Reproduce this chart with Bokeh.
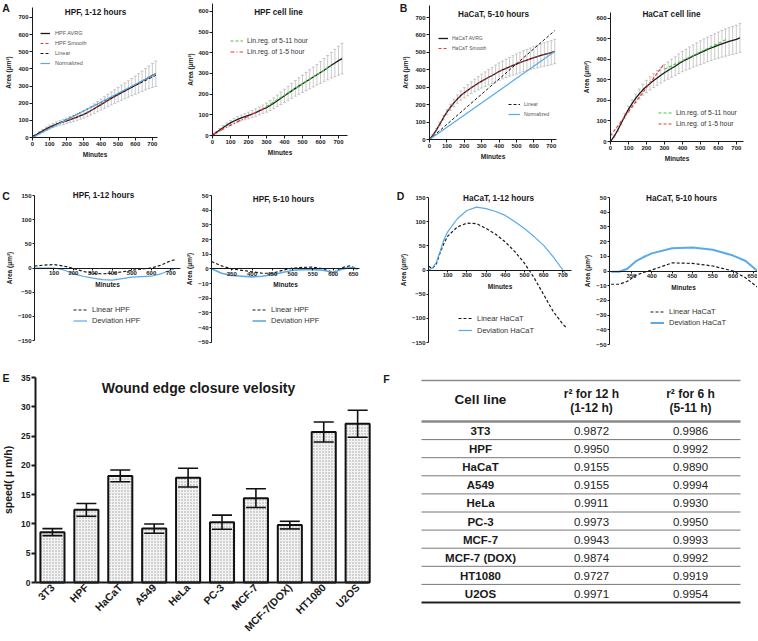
import math
from bokeh.plotting import figure
from bokeh.layouts import column, row
from bokeh.models import (Range1d, FixedTicker, Label, Legend, LegendItem, Whisker,
                          TeeHead, ColumnDataSource)
from bokeh.core.properties import value
from bokeh.embed import file_html
from bokeh.resources import INLINE

FONT = "Liberation Sans"

# ---------------- data ----------------
minutes = [0, 20, 40, 60, 80, 100, 120, 140, 160, 180, 200, 220, 240, 260, 280, 300, 320, 340,
           360, 380, 400, 420, 440, 460, 480, 500, 520, 540, 560, 580, 600, 620, 640, 660, 680,
           700, 720]
hpf_avrg = [0, 14, 27, 39, 51, 61, 70, 78, 85, 91, 97, 104, 111, 119, 127, 135, 145, 156, 168,
            180, 192, 204, 216, 228, 239, 250, 261, 272, 283, 294, 305, 316, 328, 340, 351, 362, 372]
hpf_sd = [2, 5, 7, 9, 10, 11, 12, 13, 14, 15, 16, 17, 18, 19, 20, 22, 24, 26, 28, 30, 32, 34, 36,
          38, 40, 42, 44, 46, 48, 50, 53, 56, 59, 62, 66, 70, 74]
hacat_avrg = [0, 25, 55, 90, 125, 157, 185, 210, 232, 252, 268, 283, 297, 310, 323, 335, 346, 357,
              367, 379, 390, 399, 408, 417, 425, 433, 441, 449, 456, 463, 470, 476, 482, 488, 493,
              498, 505]
hacat_sd = [2, 4, 7, 9, 12, 15, 18, 21, 24, 27, 30, 32, 34, 36, 38, 40, 42, 44, 46, 48, 50, 51, 53,
            54, 56, 58, 59, 60, 61, 62, 64, 65, 66, 67, 68, 69, 70]

hpf_linear_x = [0, 720]
hpf_linear_y = [8, 362]
hpf_norm_x = [0, 720]
hpf_norm_y = [0, 372]
hpf_reg15_x = [0, 300]
hpf_reg15_y = [5, 138]
hpf_reg511_x = [300, 660]
hpf_reg511_y = [140, 338]

hacat_linear_x = [0, 720]
hacat_linear_y = [0, 625]
hacat_norm_x = [0, 720]
hacat_norm_y = [0, 505]
hacat_reg15_x = [0, 300]
hacat_reg15_y = [28, 380]
hacat_reg511_x = [300, 650]
hacat_reg511_y = [352, 500]

hpf12_t = [0, 50, 100, 150, 200, 250, 300, 350, 400, 450, 500, 550, 600, 650, 700, 720]
hpf12_linear = [4, 6, 7, 4, -1, -7, -11, -12, -11, -8, -5, -2, 0, 6, 15, 17]
hpf12_dev = [0, 0, 0, -4, -12, -17, -21, -24, -25, -22, -19, -18, -17, -12, -4, -2]

hpf510_t = [300, 325, 350, 375, 400, 425, 450, 475, 500, 525, 550, 575, 600, 625, 640, 660]
hpf510_linear = [5, 2, 0, -1, -2, -3, -3, -1, 0.5, 1, 1.2, 0, -2.5, 1, 2, 0]
hpf510_dev = [0, -3, -4.5, -5, -5.5, -5, -4, -2.5, -1, -0.5, -0.5, -1, -2.5, 0, 1, 0]

hacat12_t = [0, 20, 40, 60, 80, 100, 150, 200, 250, 300, 350, 400, 450, 500, 550, 600, 650, 700, 720]
hacat12_linear = [8, 3, 12, 35, 55, 70, 89, 97, 96, 86, 74, 58, 38, 14, -16, -51, -86, -112, -120]
hacat12_dev = [0, 4, 15, 38, 62, 79, 106, 123, 130, 127, 121, 113, 100, 86, 69, 51, 27, 0, -10]

hacat510_t = [300, 320, 340, 360, 380, 400, 450, 500, 550, 600, 630, 660]
hacat510_linear = [-9, -9, -7, -3, -1, 0.7, 5.5, 5.2, 3.4, 0, -4.5, -11]
hacat510_dev = [-0.5, -0.5, 1.5, 6.5, 9.5, 12, 15.5, 16, 14.5, 10.5, 7, 0]

growth_xticks = [0, 100, 200, 300, 400, 500, 600, 700]
yticks_700 = [0, 100, 200, 300, 400, 500, 600, 700]
yticks_600 = [0, 100, 200, 300, 400, 500, 600]
dev_xticks_12 = [100, 200, 300, 400, 500, 600, 700]
dev_xticks_510 = [350, 400, 450, 500, 550, 600, 650]
dev_yticks_150 = [-150, -100, -50, 0, 50, 100, 150]
dev_yticks_50 = [-50, -40, -30, -20, -10, 0, 10, 20, 30, 40, 50]

cell_lines = ["3T3", "HPF", "HaCaT", "A549", "HeLa", "PC-3", "MCF-7", "MCF-7(DOX)", "HT1080", "U2OS"]
speed = [8.6, 12.4, 18.2, 9.2, 17.9, 10.3, 14.4, 9.8, 25.7, 27.1]
speed_err = [0.6, 1.1, 1.0, 0.8, 1.6, 1.2, 1.6, 0.65, 1.7, 2.3]
speed_ticks = [0, 5, 10, 15, 20, 25, 30, 35]

table_lines = ["3T3", "HPF", "HaCaT", "A549", "HeLa", "PC-3", "MCF-7", "MCF-7 (DOX)", "HT1080", "U2OS"]
r2_12h = ["0.9872", "0.9950", "0.9155", "0.9155", "0.9911", "0.9973", "0.9943", "0.9874", "0.9727", "0.9971"]
r2_6h = ["0.9986", "0.9992", "0.9890", "0.9994", "0.9930", "0.9950", "0.9993", "0.9992", "0.9919", "0.9954"]

BLUE = "#5aaae8"
RED = "#e23a3a"
GREEN = "#3ccc3c"
INK = "#1a1a1a"
GRAY = "#a6a6a6"


# ---------------- helpers ----------------
def style(p, tick_size="6px", label_size="6.5px", lw=1.0, tick_out=3, xstand=2, ystand=3):
    for ax in p.axis:
        ax.axis_line_color = INK
        ax.axis_line_width = lw
        ax.major_tick_line_color = INK
        ax.major_tick_line_width = lw
        ax.major_tick_out = tick_out
        ax.major_tick_in = 0
        ax.minor_tick_line_color = None
        ax.major_label_text_font = FONT
        ax.major_label_text_font_style = "bold"
        ax.major_label_text_font_size = tick_size
        ax.major_label_text_color = INK
        ax.major_label_standoff = 1
        ax.axis_label_text_font = FONT
        ax.axis_label_text_font_style = "bold"
        ax.axis_label_text_font_size = label_size
        ax.axis_label_text_color = INK
    p.xaxis.axis_label_standoff = xstand
    p.yaxis.axis_label_standoff = ystand


def full_fig(w, h, L, R, T, B, x0, x1, y0, y1, xaxis_at=None):
    """Figure whose frame fills the whole canvas; axes are pinned at the data edges."""
    fw = w - L - R
    fh = h - T - B
    sx = (x1 - x0) / fw
    sy = (y1 - y0) / fh
    X0, X1 = x0 - L * sx, x1 + R * sx
    Y0, Y1 = y0 - B * sy, y1 + T * sy
    p = figure(width=w, height=h, x_range=Range1d(X0, X1), y_range=Range1d(Y0, Y1),
               output_backend="svg", toolbar_location=None, min_border=0)
    p.outline_line_color = None
    p.grid.visible = False
    p.background_fill_color = "white"
    p.border_fill_color = "white"
    p.xaxis.fixed_location = y0 if xaxis_at is None else xaxis_at
    p.xaxis.bounds = (x0, x1)
    p.yaxis.fixed_location = x0
    p.yaxis.bounds = (y0, y1)
    return p, (w, h, X0, X1, Y0, Y1)


def add_text(p, g, px, py, text, size, fstyle="bold", align="center", color=INK):
    w, h, X0, X1, Y0, Y1 = g
    x = X0 + px / w * (X1 - X0)
    y = Y1 - py / h * (Y1 - Y0)
    p.add_layout(Label(x=x, y=y, text=text, text_font=FONT, text_font_size=size,
                       text_font_style=fstyle, text_align=align, text_baseline="middle",
                       text_color=color))


def add_legend(p, items, vx, vy, size, color=INK, gw=12, lh=10, standoff=4):
    lg = Legend(items=[LegendItem(label=lab, renderers=[r]) for lab, r in items],
                location=(vx, vy), label_text_font=FONT, label_text_font_size=size,
                label_text_color=color, glyph_width=gw, glyph_height=lh,
                label_height=lh, spacing=0, padding=0, margin=0, border_line_color=None,
                background_fill_alpha=0, label_standoff=standoff)
    p.add_layout(lg)


def growth(w, h, L, R, T, B, xmax, ymax, yticks, mean, sd, title, tpos, ystand=3):
    p, g = full_fig(w, h, L, R, T, B, 0, xmax, 0, ymax)
    p.xaxis.ticker = FixedTicker(ticks=growth_xticks)
    p.yaxis.ticker = FixedTicker(ticks=yticks)
    p.xaxis.axis_label = "Minutes"
    p.yaxis.axis_label = "Area (μm²)"
    style(p, ystand=ystand)
    src = ColumnDataSource(dict(t=minutes,
                                up=[m + s for m, s in zip(mean, sd)],
                                lo=[m - s for m, s in zip(mean, sd)]))
    p.add_layout(Whisker(source=src, base="t", upper="up", lower="lo", line_color=GRAY,
                         line_width=0.6,
                         upper_head=TeeHead(size=3, line_color=GRAY, line_width=0.6),
                         lower_head=TeeHead(size=3, line_color=GRAY, line_width=0.6)))
    avg = p.line(minutes, mean, line_color=INK, line_width=1.3)
    add_text(p, g, tpos[0], tpos[1], title, "8.2px")
    return p, g, avg


def deviation(w, h, L, R, T, B, x0, x1, y0, y1, xticks, yticks, t, lin, dev,
              lin_label, dev_label, title, tpos, leg, dev_w=1.2, lh=11):
    p, g = full_fig(w, h, L, R, T, B, x0, x1, y0, y1, xaxis_at=0)
    p.xaxis.ticker = FixedTicker(ticks=xticks)
    p.yaxis.ticker = FixedTicker(ticks=yticks)
    p.xaxis.axis_label = "Minutes"
    p.yaxis.axis_label = "Area (μm²)"
    style(p, tick_out=2, ystand=2)
    r_lin = p.line(t, lin, line_color=INK, line_dash="3 2", line_width=1.2)
    r_dev = p.line(t, dev, line_color=BLUE, line_width=dev_w)
    add_text(p, g, tpos[0], tpos[1], title, "8.2px")
    add_legend(p, [(lin_label, r_lin), (dev_label, r_dev)], leg[0], leg[1], "7.5px",
               color="#333", gw=14, lh=lh, standoff=5)
    return p, g


# ---------------- row 1 : A and B ----------------
pa1, ga1, a1_avg = growth(186, 190, 32, 29, 6.7, 53, 730, 760, yticks_700, hpf_avrg, hpf_sd,
                          "HPF, 1-12 hours", (95, 12))
a1_smooth = pa1.line(minutes, hpf_avrg, line_color=RED, line_dash="3 2", line_width=1.0)
a1_lin = pa1.line(hpf_linear_x, hpf_linear_y, line_color=INK, line_dash="3 2", line_width=1.0)
a1_norm = pa1.line(hpf_norm_x, hpf_norm_y, line_color=BLUE, line_width=1.2)
add_legend(pa1, [("HPF AVRG", a1_avg), ("HPF Smooth", a1_smooth), ("Linear", a1_lin),
                 ("Normalized", a1_norm)], 40, 122, "5.5px", color="#555", gw=10, lh=10,
           standoff=5)
add_text(pa1, ga1, 5.5, 7.5, "A", "10.5px")

pa2, ga2, a2_avg = growth(192, 190, 26, 31, 2.7, 55, 750, 640, yticks_600, hpf_avrg, hpf_sd,
                          "HPF cell line", (92, 12), ystand=1)
a2_r511 = pa2.line(hpf_reg511_x, hpf_reg511_y, line_color=GREEN, line_dash="3 2", line_width=1.2)
a2_r15 = pa2.line(hpf_reg15_x, hpf_reg15_y, line_color=RED, line_dash="4 2 1 2", line_width=1.2)
add_legend(pa2, [("Lin.reg. of 5-11 hour", a2_r511), ("Lin.reg. of 1-5 hour", a2_r15)],
           44, 133, "6.8px", color="#333", gw=13, lh=11, standoff=4)

pb1, gb1, b1_avg = growth(200, 190, 51, 22, 4.8, 51, 730, 770, yticks_700, hacat_avrg, hacat_sd,
                          "HaCaT, 5-10 hours", (115, 14))
b1_smooth = pb1.line(minutes, hacat_avrg, line_color=RED, line_dash="3 2", line_width=1.0)
b1_lin = pb1.line(hacat_linear_x, hacat_linear_y, line_color=INK, line_dash="3 2", line_width=1.0)
b1_norm = pb1.line(hacat_norm_x, hacat_norm_y, line_color=BLUE, line_width=1.2)
add_legend(pb1, [("HaCaT AVRG", b1_avg), ("HaCaT Smooth", b1_smooth)], 60, 137, "5px",
           color="#555", gw=10, lh=10, standoff=4)
add_legend(pb1, [("Linear", b1_lin), ("Normalized", b1_norm)], 130, 71, "5px",
           color="#555", gw=12, lh=10, standoff=4)
add_text(pb1, gb1, 25, 7.5, "B", "10.5px")

pb2, gb2, b2_avg = growth(179, 190, 32, 14, 11.8, 49, 740, 630, yticks_600, hacat_avrg, hacat_sd,
                          "HaCaT cell line", (93, 14))
b2_r511 = pb2.line(hacat_reg511_x, hacat_reg511_y, line_color=GREEN, line_dash="3 2", line_width=1.2)
b2_r15 = pb2.line(hacat_reg15_x, hacat_reg15_y, line_color=RED, line_dash="3 2", line_width=1.2)
add_legend(pb2, [("Lin.reg. of 5-11 hour", b2_r511), ("Lin.reg. of 1-5 hour", b2_r15)],
           80, 61, "6.8px", color="#333", gw=14, lh=11, standoff=4)

# ---------------- row 2 : C and D ----------------
pc1, gc1 = deviation(186, 182, 34, 6, 5, 32, 0, 750, -150, 150, dev_xticks_12, dev_yticks_150,
                     hpf12_t, hpf12_linear, hpf12_dev, "Linear HPF", "Deviation HPF",
                     "HPF, 1-12 hours", (103, 5), (73, 46))
add_text(pc1, gc1, 5.5, 5.5, "C", "10.5px")
pc2, gc2 = deviation(192, 182, 25, 19, 5, 30.3, 300, 665, -50, 50, dev_xticks_510, dev_yticks_50,
                     hpf510_t, hpf510_linear, hpf510_dev, "Linear HPF", "Deviation HPF",
                     "HPF, 5-10 hours", (97, 9), (66, 46), dev_w=1.6)
pd1, gd1 = deviation(202, 182, 50, 9, 7, 30, 0, 745, -150, 150, dev_xticks_12, dev_yticks_150,
                     hacat12_t, hacat12_linear, hacat12_dev, "Linear HaCaT", "Deviation HaCaT",
                     "HaCaT, 1-12 hours", (120, 8), (80, 36), lh=12)
add_text(pd1, gd1, 22, 5.5, "D", "10.5px")
pd2, gd2 = deviation(177, 182, 29, 0, 7, 28, 296, 660, -50, 50, dev_xticks_510, dev_yticks_50,
                     hacat510_t, hacat510_linear, hacat510_dev, "Linear HaCaT", "Deviation HaCaT",
                     "HaCaT, 5-10 hours", (101, 8), (70, 44), dev_w=2.0)

# ---------------- row 3 : E bar chart ----------------
bar_x = [i + 0.5 for i in range(len(cell_lines))]   # slot centres of the categories
pe, ge = full_fig(378, 268, 35, 10, 5, 58, 0, len(cell_lines) - 0.18, 0, 35)
pe.vbar(x=bar_x, top=speed, width=0.71, fill_color="#f3f3f3", line_color="#111",
        line_width=2, hatch_pattern="dot", hatch_color="#8a8a8a", hatch_scale=3,
        hatch_weight=1, hatch_alpha=0.8)
esrc = ColumnDataSource(dict(x=bar_x,
                             up=[s + e for s, e in zip(speed, speed_err)],
                             lo=[s - e for s, e in zip(speed, speed_err)]))
pe.add_layout(Whisker(source=esrc, base="x", upper="up", lower="lo", line_color="#111",
                      line_width=1.6, level="overlay",
                      upper_head=TeeHead(size=20, line_color="#111", line_width=1.6),
                      lower_head=TeeHead(size=20, line_color="#111", line_width=1.6)))
pe.yaxis.ticker = FixedTicker(ticks=speed_ticks)
pe.yaxis.axis_label = "speed( μ m/h)"
pe.xaxis.ticker = FixedTicker(ticks=bar_x)
pe.xaxis.major_label_overrides = {x: name for x, name in zip(bar_x, cell_lines)}
style(pe, tick_size="8.5px", label_size="10.5px", lw=2, tick_out=4, ystand=4)
pe.xaxis.major_label_text_font_size = "10.5px"
pe.xaxis.major_label_orientation = math.pi / 4
pe.xaxis.major_tick_out = 0
pe.xaxis.major_label_standoff = 3
add_text(pe, ge, 198, 15, "Wound edge closure velosity", "14px")
add_text(pe, ge, 5.5, 5.5, "E", "10.5px")

# ---------------- row 3 : F table ----------------
pf = figure(width=379, height=268, x_range=Range1d(378, 757), y_range=Range1d(640, 372),
            output_backend="svg", toolbar_location=None, x_axis_location=None,
            y_axis_location=None, min_border=0)
pf.outline_line_color = None
pf.grid.visible = False
pf.text(x=[386], y=[378], text=["F"], text_font=value(FONT), text_font_size=value("10.5px"),
        text_font_style="bold", text_align="center", text_baseline="middle", text_color=INK)
row_y = [430 + 18.22 * i for i in range(len(table_lines))]
sep_y = [439.1 + 18.1 * i for i in range(len(table_lines) - 1)]
pf.segment(x0=[421] * len(sep_y), y0=sep_y, x1=[740] * len(sep_y), y1=sep_y,
           line_color="#777", line_width=1)
pf.segment(x0=[421, 421], y0=[380, 421], x1=[740, 740], y1=[380, 421],
           line_color="#8a8a8a", line_width=[1.6, 2.6])
pf.segment(x0=[421], y0=[602], x1=[740], y1=[602], line_color="#222", line_width=2)
pf.text(x=[480], y=[399], text=["Cell line"], text_font=value(FONT),
        text_font_size=value("13.5px"), text_font_style="bold", text_align="center",
        text_baseline="middle", text_color=INK)
pf.text(x=[591, 591, 690, 690], y=[393, 407.5, 393, 407.5],
        text=["r² for 12 h", "(1-12 h)", "r² for 6 h", "(5-11 h)"], text_font=value(FONT),
        text_font_size=value("12px"), text_font_style="bold", text_align="center",
        text_baseline="middle", text_color=INK)
pf.text(x=[480] * len(table_lines), y=row_y, text=table_lines, text_font=value(FONT),
        text_font_size=value("11.5px"), text_font_style="bold", text_align="center",
        text_baseline="middle", text_color=INK)
pf.text(x=[591] * len(r2_12h), y=row_y, text=r2_12h, text_font=value(FONT),
        text_font_size=value("11.5px"), text_align="center", text_baseline="middle",
        text_color="#222")
pf.text(x=[690] * len(r2_6h), y=row_y, text=r2_6h, text_font=value(FONT),
        text_font_size=value("11.5px"), text_align="center", text_baseline="middle",
        text_color="#222")

layout = column(row(pa1, pa2, pb1, pb2), row(pc1, pc2, pd1, pd2), row(pe, pf))
open("out.html", "w").write(file_html(layout, INLINE))
